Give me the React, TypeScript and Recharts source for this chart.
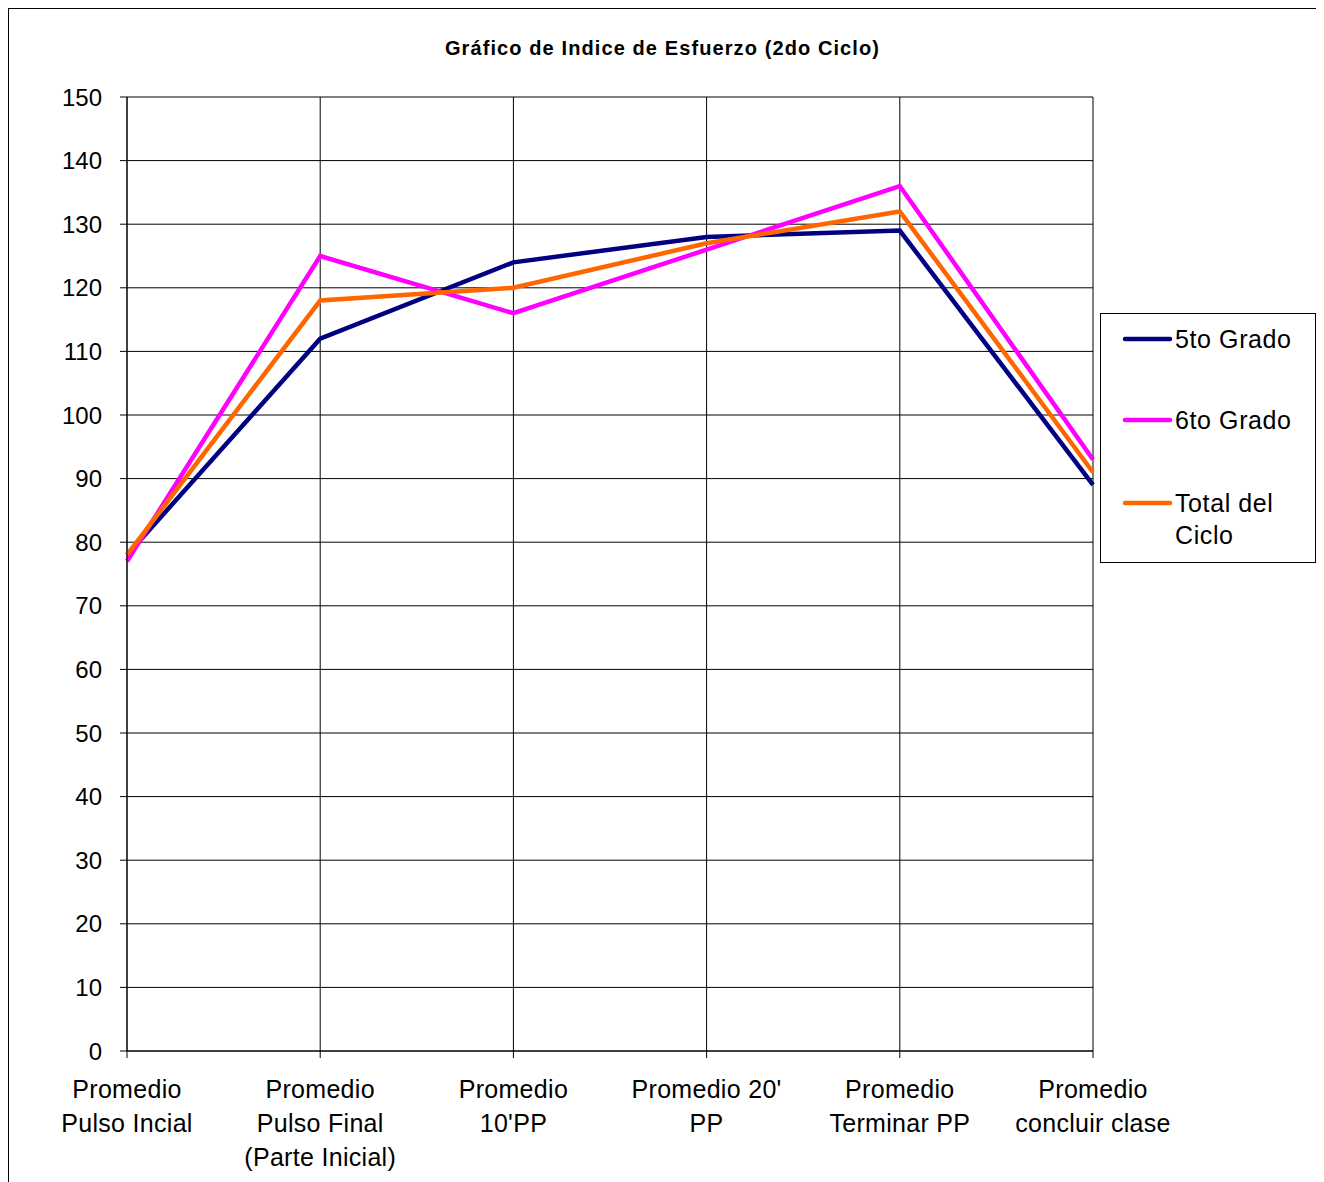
import { LineChart, Line, XAxis, YAxis, CartesianGrid, Legend } from "recharts";

const categories = [
  "Promedio\nPulso Incial",
  "Promedio\nPulso Final\n(Parte Inicial)",
  "Promedio\n10'PP",
  "Promedio 20'\nPP",
  "Promedio\nTerminar PP",
  "Promedio\nconcluir clase",
];

const quinto = [78, 112, 124, 128, 129, 89];
const sexto = [77, 125, 116, 126, 136, 93];
const total = [78, 118, 120, 127, 132, 91];

const yTicks = [0, 10, 20, 30, 40, 50, 60, 70, 80, 90, 100, 110, 120, 130, 140, 150];

const series = [
  { key: "quinto", name: "5to Grado", color: "#000080" },
  { key: "sexto", name: "6to Grado", color: "#FF00FF" },
  { key: "total", name: "Total del Ciclo", color: "#FF6600" },
];

const data = categories.map((cat, i) => ({
  cat,
  quinto: quinto[i],
  sexto: sexto[i],
  total: total[i],
}));

const FONT = "Arial, 'Liberation Sans', sans-serif";

function CategoryTick(props: any) {
  const { x, y, payload } = props;
  const lines = String(payload.value).split("\n");
  return (
    <g>
      {lines.map((line, i) => (
        <text
          key={i}
          x={x}
          y={y + 38 + i * 34}
          textAnchor="middle"
          fontSize={25}
          letterSpacing={0.3}
          fontFamily={FONT}
          fill="#000"
        >
          {line}
        </text>
      ))}
    </g>
  );
}

function LegendBox() {
  const rows = [
    { s: series[0], y: 26, lines: ["5to Grado"] },
    { s: series[1], y: 107, lines: ["6to Grado"] },
    { s: series[2], y: 190, lines: ["Total del", "Ciclo"] },
  ];
  return (
    <svg width={216} height={250} style={{ display: "block" }}>
      <rect x={0.5} y={0.5} width={215} height={249} fill="#fff" stroke="#000" />
      {rows.map((r) => (
        <g key={r.s.key}>
          <line x1={25} x2={70} y1={r.y} y2={r.y} stroke={r.s.color} strokeWidth={4.5} strokeLinecap="round" />
          {r.lines.map((t, i) => (
            <text
              key={i}
              x={75}
              y={r.y + 8.5 + i * 32}
              fontSize={25}
              letterSpacing={0.6}
              fontFamily={FONT}
              fill="#000"
            >
              {t}
            </text>
          ))}
        </g>
      ))}
    </svg>
  );
}

export default function App() {
  return (
    <div
      style={{
        position: "relative",
        width: 1309,
        height: 1174,
        boxSizing: "border-box",
        borderTop: "1px solid #000",
        borderLeft: "1px solid #000",
        borderRight: "1px solid #000",
        background: "#fff",
        overflow: "hidden",
      }}
    >
      <div
        style={{
          position: "absolute",
          top: 29,
          left: 0,
          right: 0,
          textAlign: "center",
          fontFamily: FONT,
          fontWeight: "bold",
          fontSize: 20,
          letterSpacing: 1.1,
          lineHeight: "20px",
          color: "#000",
        }}
      >
        Gráfico de Indice de Esfuerzo (2do Ciclo)
      </div>
      <LineChart width={1306} height={1173} data={data} margin={{ top: 88, right: 222, bottom: 31, left: 58 }}>
        <CartesianGrid stroke="#000" strokeWidth={1} />
        <XAxis
          dataKey="cat"
          interval={0}
          height={100}
          tickSize={7}
          tickMargin={2}
          axisLine={{ stroke: "#000" }}
          tickLine={{ stroke: "#000" }}
          tick={<CategoryTick />}
        />
        <YAxis
          domain={[0, 150]}
          ticks={yTicks}
          interval={0}
          width={60}
          tickSize={7}
          tickMargin={18}
          axisLine={{ stroke: "#000" }}
          tickLine={{ stroke: "#000" }}
          tick={{ fontSize: 24, fontFamily: FONT, fill: "#000" }}
        />
        <Legend
          layout="vertical"
          align="center"
          verticalAlign="middle"
          content={() => <LegendBox />}
          wrapperStyle={{ position: "absolute", left: 1091, top: 304, width: 216, height: 250 }}
        />
        {series.map((s) => (
          <Line
            key={s.key}
            type="linear"
            dataKey={s.key}
            name={s.name}
            stroke={s.color}
            strokeWidth={4.5}
            dot={false}
            isAnimationActive={false}
          />
        ))}
      </LineChart>
    </div>
  );
}
